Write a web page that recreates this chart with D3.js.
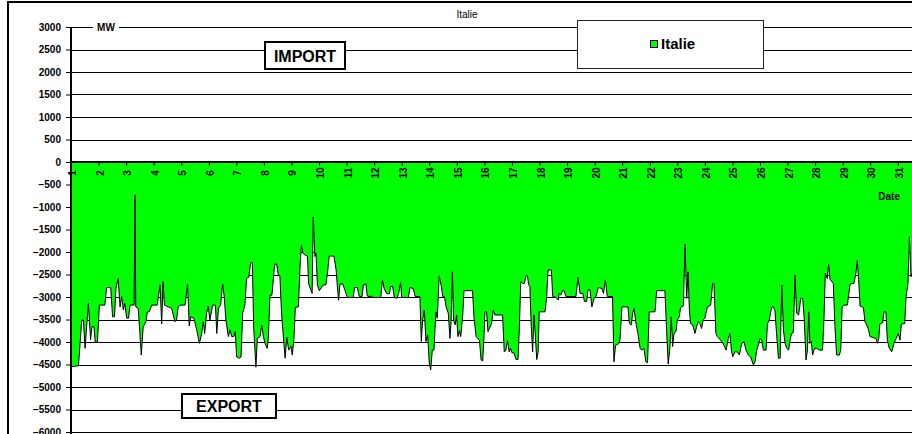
<!DOCTYPE html>
<html>
<head>
<meta charset="utf-8">
<script src="https://cdn.jsdelivr.net/npm/d3@7"></script>
<style>
  body { margin: 0; background: #fff; }
  svg { display: block; font-family: "Liberation Sans", Arial, sans-serif; }
</style>
</head>
<body>
<svg id="chart" width="912" height="434"></svg>
<script>
// hourly exchange with Italy (MW), traced as [day, MW] vertices
const italie = [
  [1.00,-4550],[1.27,-4530],[1.33,-4030],[1.39,-3510],[1.45,-3510],[1.51,-4140],[1.63,-3140],[1.71,-3950],
  [1.76,-3660],[1.83,-3660],[1.88,-4000],[1.96,-4000],[2.03,-3180],[2.23,-3180],[2.29,-2790],[2.44,-2790],
  [2.51,-3440],[2.58,-3440],[2.63,-2810],[2.71,-2590],[2.78,-3220],[2.84,-2990],[2.90,-3290],[2.95,-3140],
  [3.02,-3470],[3.09,-3470],[3.14,-3180],[3.29,-3180],[3.32,-730],[3.35,-3220],[3.44,-3250],[3.50,-3810],
  [3.55,-4290],[3.62,-3660],[3.72,-3550],[3.77,-3330],[3.84,-3330],[3.93,-3180],[4.13,-3180],[4.23,-2730],
  [4.29,-3600],[4.34,-2660],[4.39,-3180],[4.53,-3220],[4.65,-3250],[4.77,-3550],[4.83,-3510],[4.89,-3220],
  [4.95,-3180],[5.14,-3180],[5.23,-2710],[5.29,-3640],[5.34,-3440],[5.46,-3470],[5.56,-3730],[5.66,-4030],
  [5.74,-3810],[5.80,-3550],[5.85,-3810],[5.92,-3360],[5.98,-3200],[6.04,-3510],
  [6.14,-3180],[6.24,-3180],[6.29,-3810],[6.35,-3250],[6.43,-3180],[6.50,-2710],[6.56,-2990],[6.62,-3510],
  [6.71,-3880],[6.77,-3730],[6.83,-3880],[6.91,-3880],[6.96,-3770],[7.01,-4330],[7.11,-4360],[7.17,-4330],
  [7.23,-3360],[7.31,-3180],[7.37,-2590],[7.45,-2560],[7.52,-2240],[7.58,-2240],[7.63,-3700],[7.71,-4560],
  [7.76,-3920],[7.86,-3880],[7.92,-3620],[7.98,-3880],[8.04,-4030],[8.12,-4140],[8.16,-3920],[8.22,-2960],
  [8.29,-2960],[8.39,-2270],[8.46,-2270],[8.52,-2510],[8.58,-2530],[8.64,-3360],[8.71,-3920],[8.77,-4360],
  [8.83,-3900],[8.90,-4180],[8.98,-4100],[9.03,-4290],[9.09,-3920],[9.14,-3230],[9.25,-3220],[9.31,-2330],
  [9.36,-1840],[9.41,-2020],[9.49,-2070],[9.58,-2090],[9.62,-2700],[9.67,-2790],[9.75,-2920],[9.79,-1220],
  [9.85,-2100],[9.89,-2020],[9.94,-2730],[10.01,-2860],[10.16,-2730],[10.25,-2730],[10.31,-2440],[10.37,-2090],
  [10.54,-2090],[10.62,-2400],[10.66,-2730],[10.71,-3070],[10.76,-2710],[10.86,-2710],[10.98,-2920],[11.03,-3010],
  [11.24,-3010],[11.29,-2790],[11.39,-2790],[11.46,-2990],[11.56,-2990],[11.61,-2730],[11.70,-2710],[11.75,-2980],
  [11.85,-2990],[11.91,-2980],[11.97,-3010],[12.24,-3010],[12.30,-2620],[12.36,-2810],[12.45,-2920],[12.55,-2930],
  [12.60,-2770],[12.67,-2760],[12.73,-3010],[12.82,-3030],[12.89,-2920],[12.96,-2680],[13.00,-3010],[13.24,-3010],
  [13.30,-2790],[13.42,-2810],[13.49,-2990],[13.66,-2990],[13.71,-3990],[13.76,-3510],[13.82,-3290],[13.88,-3990],
  [13.94,-3840],[14.00,-4470],[14.05,-4620],[14.11,-4180],[14.17,-4180],[14.24,-3330],[14.29,-3470],[14.36,-2530],
  [14.44,-2770],[14.49,-2990],[14.55,-2990],[14.61,-3220],[14.69,-3360],[14.75,-3920],[14.79,-3550],[14.84,-2440],
  [14.88,-3510],[14.94,-3620],[14.99,-3400],[15.04,-3880],[15.09,-3750],[15.14,-3880],[15.21,-3440],[15.26,-2860],
  [15.57,-2860],[15.62,-3440],[15.70,-3880],[15.82,-3960],[15.88,-4400],[15.94,-4420],[15.99,-3810],[16.02,-3330],
  [16.08,-3330],[16.13,-3770],[16.26,-3590],[16.32,-3290],[16.38,-3400],[16.66,-3400],[16.72,-4220],[16.78,-4180],
  [16.84,-3970],[16.90,-4220],[16.95,-4140],[17.00,-4240],[17.07,-4240],[17.15,-4390],[17.22,-4390],[17.27,-3660],
  [17.32,-2660],[17.39,-2700],[17.45,-2700],[17.51,-2530],[17.56,-2530],[17.61,-2730],[17.65,-2770],[17.70,-3660],
  [17.75,-4220],[17.80,-3400],[17.85,-3880],[17.90,-4390],[17.95,-4220],[17.99,-3330],[18.20,-3330],[18.26,-2990],
  [18.31,-2400],[18.43,-2400],[18.48,-2990],[18.60,-3010],[18.68,-3070],[18.71,-2920],[18.77,-2960],[18.84,-2860],
  [18.89,-2860],[18.96,-2990],[19.32,-2990],[19.40,-2560],[19.47,-2920],[19.57,-2920],[19.63,-3100],[19.71,-3100],
  [19.76,-2840],[19.83,-2840],[19.90,-3220],[19.98,-3030],[20.05,-2990],[20.13,-2790],[20.26,-2810],[20.32,-2920],
  [20.39,-2620],[20.46,-2990],[20.65,-2990],[20.70,-4440],[20.76,-4070],[20.87,-4040],[20.92,-3960],[20.99,-3220],
  [21.21,-3220],[21.26,-3590],[21.33,-3620],[21.38,-3360],[21.43,-3250],[21.50,-3590],[21.57,-3810],[21.65,-4140],
  [21.71,-4180],[21.79,-4140],[21.86,-4440],[21.92,-4460],[21.98,-3330],[22.19,-3330],[22.25,-2860],[22.55,-2860],
  [22.61,-3730],[22.67,-4490],[22.73,-4140],[22.78,-3440],[22.83,-4100],[22.88,-3810],[22.95,-3770],[23.00,-3510],
  [23.07,-3440],[23.12,-3230],[23.22,-3200],[23.28,-1820],[23.34,-3030],[23.39,-2440],[23.44,-3330],[23.48,-3590],
  [23.56,-3620],[23.64,-3810],[23.70,-3660],[23.76,-3550],[23.82,-3590],[23.88,-3700],[23.94,-3510],[24.00,-3470],
  [24.09,-3220],[24.21,-3180],[24.28,-2700],[24.33,-2700],[24.40,-3810],[24.45,-3880],[24.52,-3920],[24.61,-3990],
  [24.69,-4070],[24.77,-4180],[24.85,-3920],[24.91,-3810],[24.96,-4180],[25.01,-4330],[25.09,-4220],[25.18,-4220],
  [25.25,-4290],[25.34,-4030],[25.42,-3990],[25.49,-4180],[25.58,-4290],[25.66,-4330],[25.76,-4510],[25.82,-4440],
  [25.88,-4180],[25.94,-4070],[26.00,-3920],[26.06,-3960],[26.12,-4180],[26.22,-4180],[26.27,-3590],[26.34,-3510],
  [26.40,-3290],[26.46,-3200],[26.54,-3290],[26.60,-3810],[26.67,-4360],[26.73,-4360],[26.79,-2730],[26.85,-3730],
  [26.91,-4030],[26.97,-4140],[27.04,-4180],[27.09,-3960],[27.15,-3810],[27.21,-3790],[27.27,-2510],[27.33,-3360],
  [27.40,-3400],[27.48,-3030],[27.55,-3030],[27.60,-3440],[27.67,-4400],[27.72,-4180],[27.77,-3330],[27.81,-4030],
  [27.86,-3990],[27.91,-4290],[27.98,-4140],[28.06,-4140],[28.15,-4180],[28.27,-4180],[28.32,-3510],[28.37,-2470],
  [28.44,-2590],[28.49,-2270],[28.54,-2610],[28.61,-2660],[28.66,-2700],[28.72,-3660],[28.78,-4290],[28.88,-4290],
  [28.93,-4180],[28.98,-3220],[29.05,-3180],[29.17,-3180],[29.27,-2710],[29.41,-2700],[29.48,-2470],[29.53,-2190],
  [29.58,-2620],[29.63,-3200],[29.75,-3230],[29.81,-3550],[29.87,-3620],[29.94,-3730],[29.99,-3880],[30.11,-3900],
  [30.21,-3920],[30.26,-4030],[30.31,-3920],[30.35,-3600],[30.45,-3570],[30.50,-3330],[30.57,-3330],[30.62,-3960],
  [30.69,-4140],[30.78,-4220],[30.86,-4030],[30.94,-3920],[31.02,-3810],[31.08,-3960],[31.13,-3600],[31.25,-3590],
  [31.30,-2990],[31.37,-2700],[31.42,-1660],[31.48,-2550],[31.52,-2470]
];

const yTicks = d3.range(-6000, 3001, 500);
const dayLabels = d3.range(1, 32);
const seriesName = "Italie";

const svg = d3.select("#chart"),
      W = +svg.attr("width"),
      H = +svg.attr("height"),
      margin = { top: 27, left: 71 };

const x = d3.scaleLinear()
    .domain([1, 32])
    .range([margin.left, margin.left + 31 * 27.56]);

const y = d3.scaleLinear()
    .domain([-6000, 3000])
    .range([432, margin.top]);

// outer chart frame (cut on right/bottom)
svg.append("path")
    .attr("d", `M8,${H} L8,2 L${W},2`)
    .attr("fill", "none")
    .attr("stroke", "#000")
    .attr("stroke-width", 2);

// Title
svg.append("text")
    .attr("x", 467)
    .attr("y", 18)
    .attr("text-anchor", "middle")
    .attr("font-size", "10px")
    .attr("fill", "#000")
    .text(seriesName);

// Gridlines
svg.append("g")
    .selectAll("line")
    .data(yTicks)
    .enter()
    .append("line")
    .attr("x1", margin.left)
    .attr("x2", W)
    .attr("y1", d => Math.round(y(d)) + 0.5)
    .attr("y2", d => Math.round(y(d)) + 0.5)
    .attr("stroke", "#000")
    .attr("stroke-width", 1);

// Area + line
const area = d3.area()
    .x(d => x(d[0]))
    .y0(y(0))
    .y1(d => y(d[1]));

const line = d3.line()
    .x(d => x(d[0]))
    .y(d => y(d[1]));

svg.append("path")
    .datum(italie)
    .attr("d", area)
    .attr("fill", "#00ff00");

svg.append("path")
    .datum(italie)
    .attr("d", line)
    .attr("fill", "none")
    .attr("stroke", "#000")
    .attr("stroke-width", 1);

// Y Axis
const yAxis = svg.append("g")
    .attr("transform", `translate(${margin.left},0)`)
    .call(d3.axisLeft(y).tickValues(yTicks).tickSize(5).tickPadding(5).tickFormat(d3.format("d")));
yAxis.select(".domain").remove();
yAxis.selectAll("line").attr("stroke", "#000");
yAxis.selectAll("text")
    .attr("font-size", "10px")
    .attr("font-weight", "bold")
    .attr("font-family", "Liberation Sans, Arial, sans-serif")
    .attr("fill", "#000");

svg.append("line")
    .attr("x1", margin.left).attr("x2", margin.left)
    .attr("y1", y(3000)).attr("y2", H)
    .attr("stroke", "#000")
    .attr("stroke-width", 2);

// X Axis at zero
const xAxis = svg.append("g")
    .attr("transform", `translate(0,${y(0)})`)
    .call(d3.axisBottom(x).tickValues(dayLabels).tickSize(4).tickFormat(d3.format("d")));
xAxis.select(".domain").remove();
xAxis.selectAll("line").attr("stroke", "#000");
xAxis.selectAll("text")
    .attr("transform", "rotate(-90)")
    .attr("text-anchor", "middle")
    .attr("x", -11)
    .attr("y", 1)
    .attr("dy", "0.35em")
    .attr("font-size", "10px")
    .attr("font-weight", "bold")
    .attr("font-family", "Liberation Sans, Arial, sans-serif")
    .attr("fill", "#000");

svg.append("line")
    .attr("x1", margin.left).attr("x2", W)
    .attr("y1", y(0)).attr("y2", y(0))
    .attr("stroke", "#000")
    .attr("stroke-width", 2);

// MW label
svg.append("rect")
    .attr("x", 93).attr("y", y(3000) - 6)
    .attr("width", 26).attr("height", 12)
    .attr("fill", "#fff");
svg.append("text")
    .attr("x", 106)
    .attr("y", y(3000) + 3.5)
    .attr("text-anchor", "middle")
    .attr("font-size", "10px")
    .attr("font-weight", "bold")
    .text("MW");

// Date label
svg.append("text")
    .attr("x", 900)
    .attr("y", 200)
    .attr("text-anchor", "end")
    .attr("font-size", "10px")
    .attr("font-weight", "bold")
    .text("Date");

// IMPORT / EXPORT boxes
function tagBox(label, bx, by, bw, bh) {
    svg.append("rect")
        .attr("x", bx).attr("y", by)
        .attr("width", bw).attr("height", bh)
        .attr("fill", "#fff")
        .attr("stroke", "#000")
        .attr("stroke-width", 2);
    svg.append("text")
        .attr("x", bx + bw / 2)
        .attr("y", by + bh / 2 + 6)
        .attr("text-anchor", "middle")
        .attr("font-size", "16px")
        .attr("font-weight", "bold")
        .text(label);
}
tagBox("IMPORT", 265, 42, 80, 27);
tagBox("EXPORT", 182, 394, 94, 24);

// Legend
svg.append("rect")
    .attr("x", 577.5).attr("y", 20.5)
    .attr("width", 186).attr("height", 48)
    .attr("fill", "#fff")
    .attr("stroke", "#222")
    .attr("stroke-width", 1);
svg.append("rect")
    .attr("x", 650.5).attr("y", 40.5)
    .attr("width", 7).attr("height", 7)
    .attr("fill", "#00ff00")
    .attr("stroke", "#000");
svg.append("text")
    .attr("x", 661)
    .attr("y", 49)
    .attr("font-size", "15px")
    .attr("font-weight", "bold")
    .text(seriesName);
</script>
</body>
</html>
